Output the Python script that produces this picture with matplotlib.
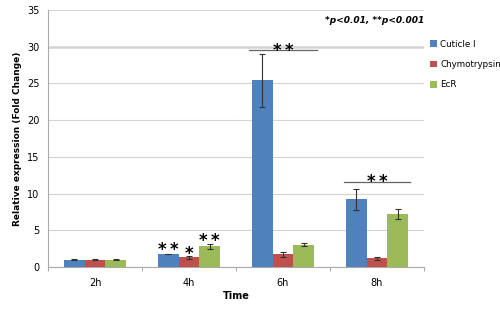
import matplotlib
matplotlib.use("Agg")
import matplotlib.pyplot as plt
import numpy as np

categories = ["2h", "4h", "6h", "8h"]
series = ["Cuticle I", "Chymotrypsin", "EcR"]
cuticle = [1.0, 1.75, 25.4, 9.2]
cuticle_err = [0.05, 0.05, 3.6, 1.4]
chymo = [1.0, 1.3, 1.7, 1.2]
chymo_err = [0.05, 0.15, 0.3, 0.2]
ecr = [1.0, 2.8, 3.0, 7.2]
ecr_err = [0.05, 0.3, 0.2, 0.7]
colors = ["#4F81BD", "#C0504D", "#9BBB59"]

fig = plt.figure(figsize=(5, 3.09), dpi=100)
ax = fig.add_axes([0.096, 0.136, 0.752, 0.832])

x = np.arange(len(categories))
w = 0.22
vals = [cuticle, chymo, ecr]
errs = [cuticle_err, chymo_err, ecr_err]
for i, (v, e, c, name) in enumerate(zip(vals, errs, colors, series)):
    ax.bar(x + (i - 1) * w, v, w, color=c, label=name, zorder=3,
           yerr=e, error_kw=dict(ecolor="#333333", elinewidth=0.8, capsize=2, capthick=0.8))

ax.set_xlim(-0.5, 3.5)
ax.set_ylim(0, 35)
ax.set_yticks(np.arange(0, 36, 5))
ax.yaxis.grid(True, color="#d4d4d4", linewidth=0.8, zorder=0)
ax.axhline(30, color="#dcdcdc", linewidth=2.0, zorder=0.5)
ax.set_axisbelow(True)
ax.set_xticks(x)
ax.set_xticklabels(categories, fontsize=7)
ax.set_xticks(np.arange(-0.5, 3.6, 1), minor=True)
ax.tick_params(axis="x", which="major", length=0, pad=8)
ax.tick_params(axis="x", which="minor", length=3, color="#999999")
ax.tick_params(axis="y", labelsize=7, length=0, pad=6)
for s in ["top", "right"]:
    ax.spines[s].set_visible(False)
ax.spines["left"].set_color("#aaaaaa")
ax.spines["bottom"].set_color("#aaaaaa")

ax.set_ylabel("Relative expression (Fold Change)", fontsize=6.5, fontweight="bold")
ax.set_xlabel("Time", fontsize=7, fontweight="bold", labelpad=2)

# significance stars
two = "*\u2009*"
star_kw = dict(ha="center", va="baseline", fontsize=12, fontweight="bold", zorder=5)
ax.text(x[1] - w, 1.6, two, **star_kw)
ax.text(x[1], 1.05, "*", **star_kw)
ax.text(x[1] + w, 2.85, two, **star_kw)
ax.plot([x[2] - 1.65 * w, x[2] + 1.65 * w], [29.6, 29.6], color="#666666", lw=0.9, zorder=4)
ax.text(x[2], 28.75, two, **star_kw)
ax.plot([x[3] - 1.6 * w, x[3] + 1.6 * w], [11.6, 11.6], color="#666666", lw=0.9, zorder=4)
ax.text(x[3], 10.95, two, **star_kw)

ax.text(1.0, 0.96, "*p<0.01, **p<0.001", transform=ax.transAxes, ha="right", va="center",
        fontsize=6.5, fontweight="bold", style="italic")

ax.legend(loc="upper left", bbox_to_anchor=(0.995, 0.915), frameon=False, fontsize=6.3,
          handlelength=0.8, handleheight=0.8, labelspacing=1.3, handletextpad=0.4)

fig.savefig("out.png", dpi=100)
